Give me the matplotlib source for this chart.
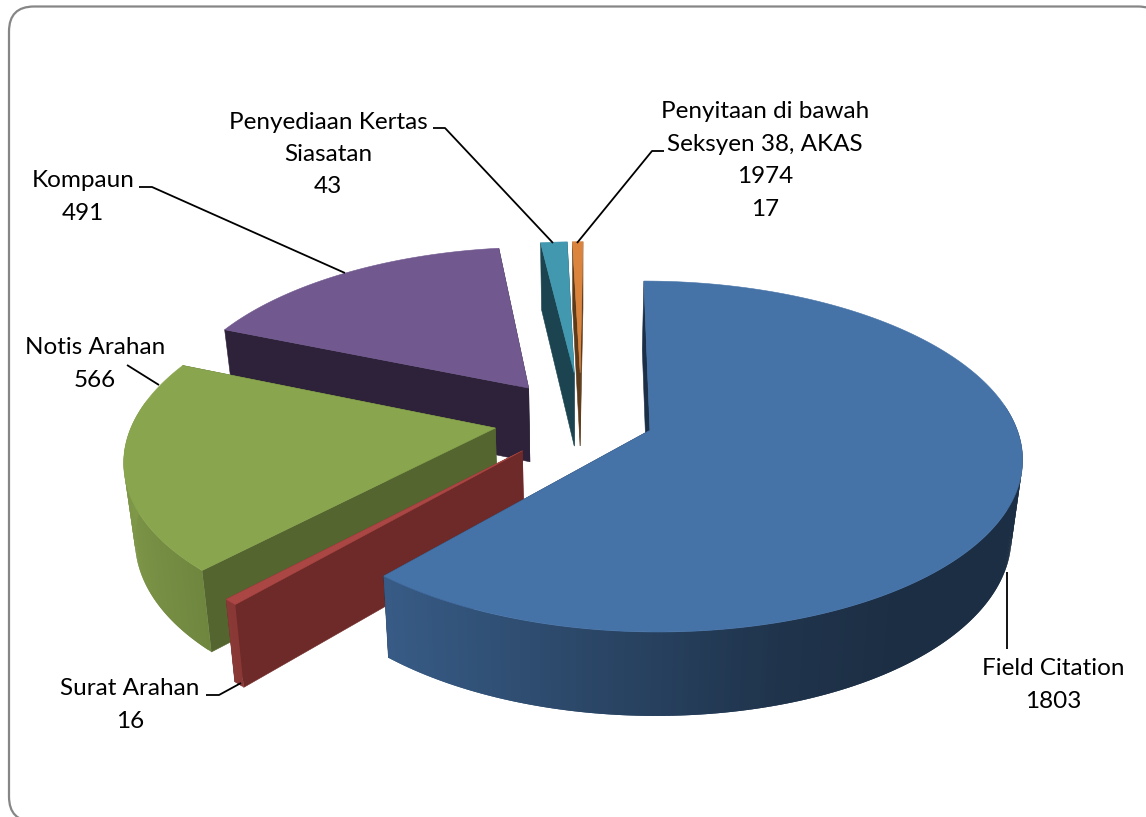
import numpy as np
import matplotlib
matplotlib.use('Agg')
import matplotlib.pyplot as plt
from matplotlib.patches import FancyBboxPatch, Polygon

names = ['Field Citation', 'Surat Arahan', 'Notis Arahan', 'Kompaun',
         'Penyediaan Kertas\nSiasatan', 'Penyitaan di bawah\nSeksyen 38, AKAS\n1974']
values = [1803, 16, 566, 491, 43, 17]
top_colors = ['#4572A7', '#AA4643', '#89A54E', '#71588F', '#4198AF', '#DB843D']
side_colors = ['#1B2F47', '#6E2A28', '#54652F', '#2D2239', '#1B4450', '#5C3A1A']
draw_order = [3, 4, 5, 2, 1, 0]

# projection of the tilted pie, all in image pixels
cx, cy = 577, 417
rx, ry = 361, 170
persp = 0.15
depth = 75
explode = [0.22, 0.22, 0.22, 0.22, 0.27, 0.27]
radius = [1.006, 1, 1, 1, 0.95, 0.95]
squash = [0.98, 1, 1, 1, 1, 1]
shift_x = [-2, 1, -3, -2, 4, 4]
shift_y = [0, 5, 3, 0, 0, 0]


def project(u, v, z=0.0):
    w = 1 + persp * v
    x = cx + (rx * u * (1 - 0.025 * z) + 4 * v) / w
    y = cy - ry * v / w + z * depth / (1 + 0.1 * v)
    return x, y


def shade(u):
    return np.interp(u, [-1, -0.65, 0.3, 0.6, 1], [0.92, 0.8, 0.45, 0.4, 0.4])


def draw_wedge(ax, start, end, top, side, ex, r, sq, dx, dy):
    mid = (start + end) / 2
    ou, ov = ex * np.sin(mid) + dx / rx, ex * np.cos(mid) - dy / ry
    t = np.linspace(start, end, max(int((end - start) * 80), 6))
    u, v = ou + r * np.sin(t), ov + r * sq * np.cos(t)

    # radial faces, then outer wall, then the top
    for a in (start, end):
        au, av = ou + r * np.sin(a), ov + r * sq * np.cos(a)
        quad = [project(ou, ov), project(au, av), project(au, av, 1), project(ou, ov, 1)]
        ax.add_patch(Polygon(quad, fc=side, ec=side, lw=0.4))
    rgb = np.array(matplotlib.colors.to_rgb(top))
    for i in range(len(t) - 1):
        if np.cos((t[i] + t[i + 1]) / 2) > 0.15:
            continue
        s = shade(np.sin((t[i] + t[i + 1]) / 2))
        j = min(i + 2, len(t) - 1)  # overlap the next strip so no seams show
        quad = [project(u[i], v[i]), project(u[j], v[j]),
                project(u[j], v[j], 1), project(u[i], v[i], 1)]
        ax.add_patch(Polygon(quad, fc=rgb * s, ec='none'))
    outline = [project(ou, ov)] + [project(a, b) for a, b in zip(u, v)]
    ax.add_patch(Polygon(outline, fc=top, ec=top, lw=0.4))


fig = plt.figure(figsize=(11.46, 8.17), dpi=100)
ax = fig.add_axes([0, 0, 1, 1])
ax.set_xlim(0, 1146)
ax.set_ylim(817, 0)
ax.axis('off')

# chart frame, runs off the right and bottom of the image
ax.add_patch(FancyBboxPatch((9, 6.5), 1154, 815, boxstyle='round,pad=0,rounding_size=25',
                            fc='white', ec='#868686', lw=1.6))

angles = np.concatenate([[0], np.cumsum(values)]) / sum(values) * 2 * np.pi
for i in draw_order:
    draw_wedge(ax, angles[i], angles[i + 1], top_colors[i], side_colors[i],
               explode[i], radius[i], squash[i], shift_x[i], shift_y[i])

# leader lines
leaders = [
    [(1006.5, 572), (1006.5, 649)],
    [(206, 695), (219, 695), (241, 683)],
    [(127, 365), (159, 385)],
    [(139, 187), (152, 187), (345, 273)],
    [(433, 128), (445, 128), (553, 243)],
    [(664, 151), (652, 151), (577, 243)],
]
for pts in leaders:
    xs, ys = zip(*pts)
    ax.plot(xs, ys, color='black', lw=1.3, solid_capstyle='butt')

label_pos = [(1053, 685), (130, 705), (95, 364), (83, 197), (328, 154.5), (765, 160.5)]
for name, val, (lx, ly) in zip(names, values, label_pos):
    ax.text(lx, ly, f'{name}\n{val}', ha='center', va='center', family='Lato',
            fontsize=17.5, linespacing=1.67, color='black')

fig.savefig('out.png', dpi=100)
